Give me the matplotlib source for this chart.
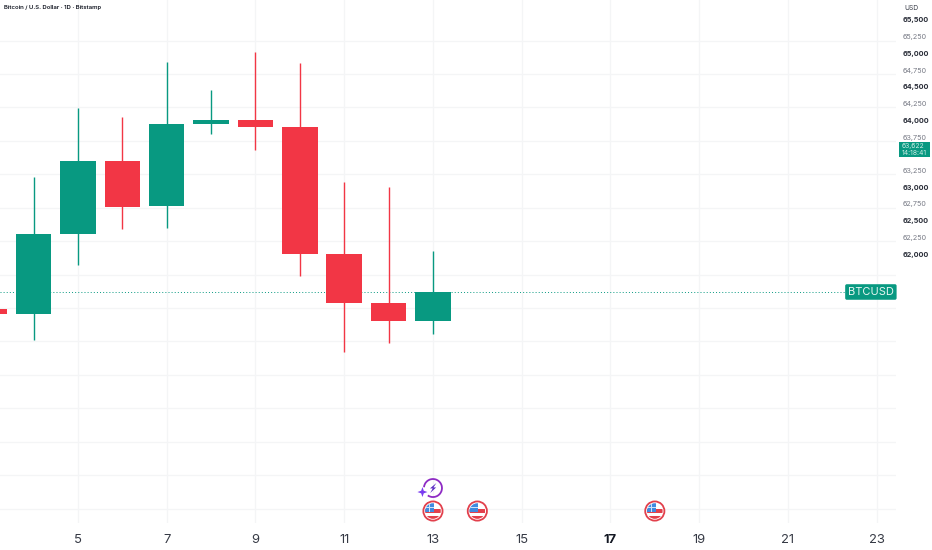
import matplotlib as mpl

mpl.use('Agg')
import matplotlib.pyplot as plt
from matplotlib.patches import Circle, Rectangle, Polygon, Arc
from matplotlib.transforms import IdentityTransform

plt.rcParams['font.family'] = ['Inter', 'DejaVu Sans']

# daily candles
days = [3, 4, 5, 6, 7, 8, 9, 10, 11, 12, 13]
opens = [61178, 61103, 62299, 63391, 62718, 63944, 64004, 63900, 62000, 61267, 60998]
highs = [61178, 63152, 64184, 64049, 64872, 64453, 65021, 64857, 63077, 63002, 62045]
lows = [61103, 60714, 61836, 62374, 62389, 63795, 63556, 61671, 60534, 60669, 60804]
closes = [61103, 62299, 63391, 62703, 63944, 64004, 63900, 62000, 61267, 60998, 61432]

# axes
day_ticks = [5, 7, 9, 11, 13, 15, 17, 19, 21, 23]
price_ticks = [65500, 65250, 65000, 64750, 64500, 64250, 64000, 63750, 63250,
               63000, 62750, 62500, 62250, 62000]
grid_prices = [65192, 64692, 64192, 63692, 63192, 62692, 62192, 61692, 61192,
               60692, 60192, 59692, 59192, 58692, 58192]

# price labels and events
last_price = 61432
clock_price = 63563
clock_label = '63,622\n14:18:41'
flag_days = [13, 14, 18]
flag_price = 58156
bolt_day = 13
bolt_price = 58500
symbol_day = 22.87

GREEN = '#089981'
RED = '#F23645'
GRID = '#f4f5f6'
PURPLE = '#8e2bc4'


def draw_flag(ax, day, price):
    """
    Small round US flag event marker, sized in pixels.
    """
    cx, cy = ax.transData.transform((day, price))
    pix = IdentityTransform()
    ax.add_patch(Circle((cx, cy), 9.6, fc='white', ec='#e2404c', lw=1.3, transform=pix,
                        zorder=5, clip_on=False))
    inner = Circle((cx, cy), 7.8, fc='white', ec='none', transform=pix, zorder=5)
    ax.add_patch(inner)
    parts = [
        Rectangle((cx - 8, cy - 8), 16, 3.4, fc='#e2404c', ec='none'),
        Rectangle((cx - 8, cy - 1.6), 16, 3.4, fc='#e2404c', ec='none'),
        Rectangle((cx - 8, cy - 1), 9, 9, fc='#3f8ae0', ec='none'),
        Rectangle((cx - 8, cy + 3.2), 9, 0.6, fc='#cfe2f8', ec='none'),
        Rectangle((cx - 3.6, cy - 1), 0.6, 9, fc='#cfe2f8', ec='none'),
    ]
    for part in parts:
        part.set_transform(pix)
        part.set_zorder(6)
        ax.add_patch(part)
        part.set_clip_path(inner)


def draw_bolt(ax, day, price):
    """
    Purple ring with a lightning bolt and a small star on its left.
    """
    cx, cy = ax.transData.transform((day, price))
    pix = IdentityTransform()
    ax.add_patch(Arc((cx, cy), 18, 18, theta1=235, theta2=175, ec=PURPLE, lw=1.3,
                     transform=pix, zorder=5, clip_on=False))
    bolt = [(cx + 3.4, cy + 5), (cx - 3, cy - 0.4), (cx - 0.2, cy - 0.4), (cx - 2.8, cy - 5),
            (cx + 3.2, cy + 0.6), (cx + 0.5, cy + 0.6)]
    ax.add_patch(Polygon(bolt, closed=True, fc='#5b2bc4', ec='none', transform=pix, zorder=5))
    sx, sy = cx - 10.5, cy - 4
    star = [(sx, sy + 5), (sx + 1.3, sy + 1.3), (sx + 5, sy), (sx + 1.3, sy - 1.3),
            (sx, sy - 5), (sx - 1.3, sy - 1.3), (sx - 5, sy), (sx - 1.3, sy + 1.3)]
    ax.add_patch(Polygon(star, closed=True, fc='#7a3cf0', ec='none', transform=pix, zorder=5))


figure = plt.figure(figsize=(9.32, 5.5), dpi=100)
ax = figure.add_axes([0, 27 / 550, 896 / 932, 523 / 550])

ax.set_xlim(3.242, 23.436)
ax.set_ylim(57977, 65799)
for spine in ax.spines.values():
    spine.set_visible(False)

# grid: vertical on the day ticks, horizontal on its own price levels
ax.set_xticks(day_ticks)
ax.set_yticks(grid_prices, minor=True)
ax.yaxis.tick_right()
ax.set_yticks(price_ticks)
ax.set_yticklabels([f'{p:,}' for p in price_ticks])
ax.grid(True, axis='x', color=GRID, lw=0.9)
ax.grid(True, axis='y', which='minor', color=GRID, lw=0.9)
ax.set_axisbelow(True)
ax.tick_params(axis='both', which='both', length=0)
ax.tick_params(axis='x', labelsize=9.4, labelcolor='#363a45', pad=7.6)
ax.tick_params(axis='y', labelsize=5.2, labelcolor='#787b86', pad=5)

for label, price in zip(ax.get_yticklabels(), price_ticks):
    if price % 500 == 0:
        label.set_fontweight('bold')
        label.set_color('#2a2e39')
for label, day in zip(ax.get_xticklabels(), day_ticks):
    if day == 17:
        label.set_fontweight('bold')
        label.set_color('#131722')

# candles
for d, o, h, l, c in zip(days, opens, highs, lows, closes):
    colour = GREEN if c >= o else RED
    ax.vlines(d, l, h, color=colour, lw=1.0, zorder=2)
    ax.bar(d, abs(c - o), width=0.8, bottom=min(o, c), color=colour, lw=0, zorder=3)

# last price line and symbol tag
ax.hlines(last_price, 3.242, symbol_day, color=GREEN, lw=0.7, linestyles=(0, (1, 2.2)), zorder=1)
ax.text(symbol_day, last_price, 'BTCUSD', color='#e6f6f2', fontsize=8.0, ha='center', va='center',
        zorder=6, clip_on=False,
        bbox=dict(boxstyle='round,pad=0.25,rounding_size=0.15', fc=GREEN, ec='none'))

# price tag on the scale
tag = ax.get_yaxis_transform()
ax.add_patch(Rectangle((899 / 896, clock_price - 112), 31 / 896, 224, fc=GREEN, ec='none',
                       transform=tag, clip_on=False, zorder=6))
ax.text(902 / 896, clock_price, clock_label, transform=tag, color='#cfeee6', fontsize=4.9,
        linespacing=1.1, ha='left', va='center', zorder=7, clip_on=False)

# event markers
for d in flag_days:
    draw_flag(ax, d, flag_price)
draw_bolt(ax, bolt_day, bolt_price)

# header texts
figure.text(4 / 932, 1 - 8 / 550, 'Bitcoin / U.S. Dollar · 1D · Bitstamp', fontsize=4.3, color='#131722',
            fontweight='semibold', ha='left', va='center')
figure.text(904 / 932, 1 - 8 / 550, 'USD', fontsize=4.8, color='#363a45', ha='left', va='center')

figure.savefig('out.png', dpi=100)
plt.close(figure)
